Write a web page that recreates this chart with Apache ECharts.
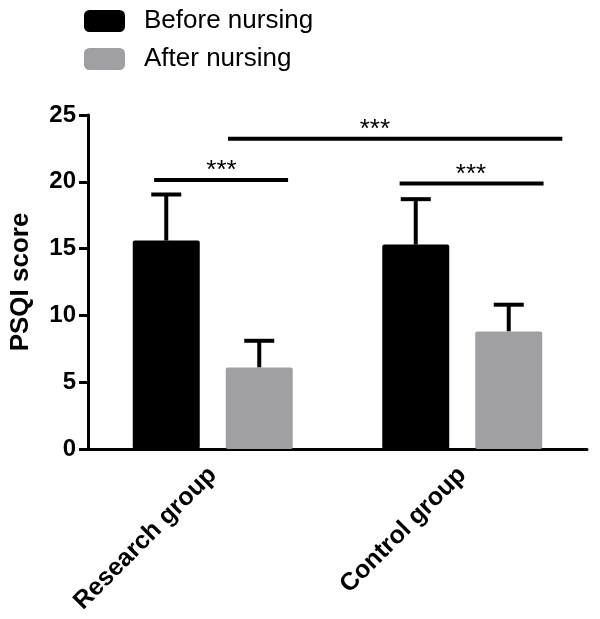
<!DOCTYPE html>
<html>
<head>
<meta charset="utf-8">
<script src="https://cdn.jsdelivr.net/npm/echarts@6/dist/echarts.min.js"></script>
<style>html,body{margin:0;padding:0;background:#fff;}#c{width:600px;height:619px;}</style>
</head>
<body>
<div id="c"></div>
<script>
const categories = ['Research group', 'Control group'];
const seriesNames = ['Before nursing', 'After nursing'];
const beforeMean = [15.6, 15.3];
const beforeSD = [3.45, 3.4];
const afterMean = [6.1, 8.8];
const afterSD = [2.0, 2.0];
const yTicks = [0, 5, 10, 15, 20, 25];
// significance brackets: start, end (in category units), height, label position, label
const bracketStart = [0.265, 1.249, 0.561];
const bracketEnd = [0.802, 1.826, 1.901];
const bracketY = [20.14, 19.88, 23.23];
const bracketLabelX = [0.535, 1.535, 1.15];
const bracketLabel = ['***', '***', '***'];

const FONT = 'Liberation Sans, Arial, Helvetica, sans-serif';
const BAR_W = 67, BAR_GAP = 26;
const OFFSET = (BAR_W + BAR_GAP) / 2;

function errData(means, sds) {
  return means.map((m, i) => [i, m, sds[i]]);
}
function errRender(dir) {
  return function (params, api) {
    const cat = api.value(0), m = api.value(1), sd = api.value(2);
    const base = api.coord([cat, m]);
    const top = api.coord([cat, m + sd]);
    const x = base[0] + dir * OFFSET;
    const style = { stroke: '#000', lineWidth: 4, fill: null };
    return {
      type: 'group',
      children: [
        { type: 'line', shape: { x1: x, y1: base[1], x2: x, y2: top[1] }, style: style },
        { type: 'line', shape: { x1: x - 15, y1: top[1], x2: x + 15, y2: top[1] }, style: style }
      ]
    };
  };
}
const bracketData = bracketStart.map((s, i) => [s, bracketEnd[i], bracketY[i], bracketLabelX[i], i]);

const chart = echarts.init(document.getElementById('c'), null, { renderer: 'canvas' });
chart.setOption({
  animation: false,
  backgroundColor: '#fff',
  legend: {
    orient: 'vertical',
    left: 84,
    top: 8,
    padding: 0,
    itemWidth: 41,
    itemHeight: 22,
    itemGap: 12,
    icon: 'roundRect',
    data: seriesNames,
    textStyle: { fontFamily: FONT, fontSize: 26, color: '#000', padding: [0, 0, 0, 14] }
  },
  grid: { left: 81, right: 13, top: 115, bottom: 170, containLabel: false },
  xAxis: [
    {
      type: 'category',
      data: categories,
      axisLine: { lineStyle: { color: '#000', width: 3 } },
      axisTick: { alignWithLabel: true, length: 9, lineStyle: { color: '#000', width: 3 } },
      axisLabel: { rotate: 45, margin: 22, color: '#000', fontFamily: FONT, fontSize: 25, fontWeight: 'bold' }
    },
    { type: 'value', min: 0, max: 2, show: false }
  ],
  yAxis: {
    type: 'value',
    min: 0, max: 25, interval: 5,
    name: 'PSQI score',
    nameLocation: 'middle',
    nameGap: 54,
    nameTextStyle: { color: '#000', fontFamily: FONT, fontSize: 26, fontWeight: 'bold' },
    axisLine: { show: true, lineStyle: { color: '#000', width: 3 } },
    axisTick: { show: true, length: 9, lineStyle: { color: '#000', width: 3 } },
    axisLabel: { margin: 12, color: '#000', fontFamily: FONT, fontSize: 24, fontWeight: 'bold',
      formatter: v => (yTicks.indexOf(v) >= 0 ? String(v) : '') },
    splitLine: { show: false }
  },
  series: [
    {
      name: seriesNames[0], type: 'bar', data: beforeMean,
      barWidth: BAR_W, barGap: (BAR_GAP / BAR_W * 100).toFixed(1) + '%',
      itemStyle: { color: '#000', borderRadius: 2 }
    },
    {
      name: seriesNames[1], type: 'bar', data: afterMean,
      barWidth: BAR_W,
      itemStyle: { color: '#a0a0a4', borderRadius: 2 }
    },
    {
      type: 'custom', data: errData(beforeMean, beforeSD), renderItem: errRender(-1),
      encode: { x: 0, y: 1 }, z: 1, silent: true
    },
    {
      type: 'custom', data: errData(afterMean, afterSD), renderItem: errRender(1),
      encode: { x: 0, y: 1 }, z: 1, silent: true
    },
    {
      type: 'custom', xAxisIndex: 1, data: bracketData, encode: { x: [0, 1], y: 2 }, silent: true,
      renderItem: function (params, api) {
        const a = api.coord([api.value(0), api.value(2)]);
        const b = api.coord([api.value(1), api.value(2)]);
        const l = api.coord([api.value(3), api.value(2)]);
        return {
          type: 'group',
          children: [
            { type: 'line', shape: { x1: a[0], y1: a[1], x2: b[0], y2: b[1] }, style: { stroke: '#000', lineWidth: 4 } },
            { type: 'text', x: l[0], y: l[1] + 4,
              style: { text: bracketLabel[api.value(4)], fill: '#000', font: '26px ' + FONT, align: 'center', verticalAlign: 'bottom' } }
          ]
        };
      }
    }
  ]
});
</script>
</body>
</html>
